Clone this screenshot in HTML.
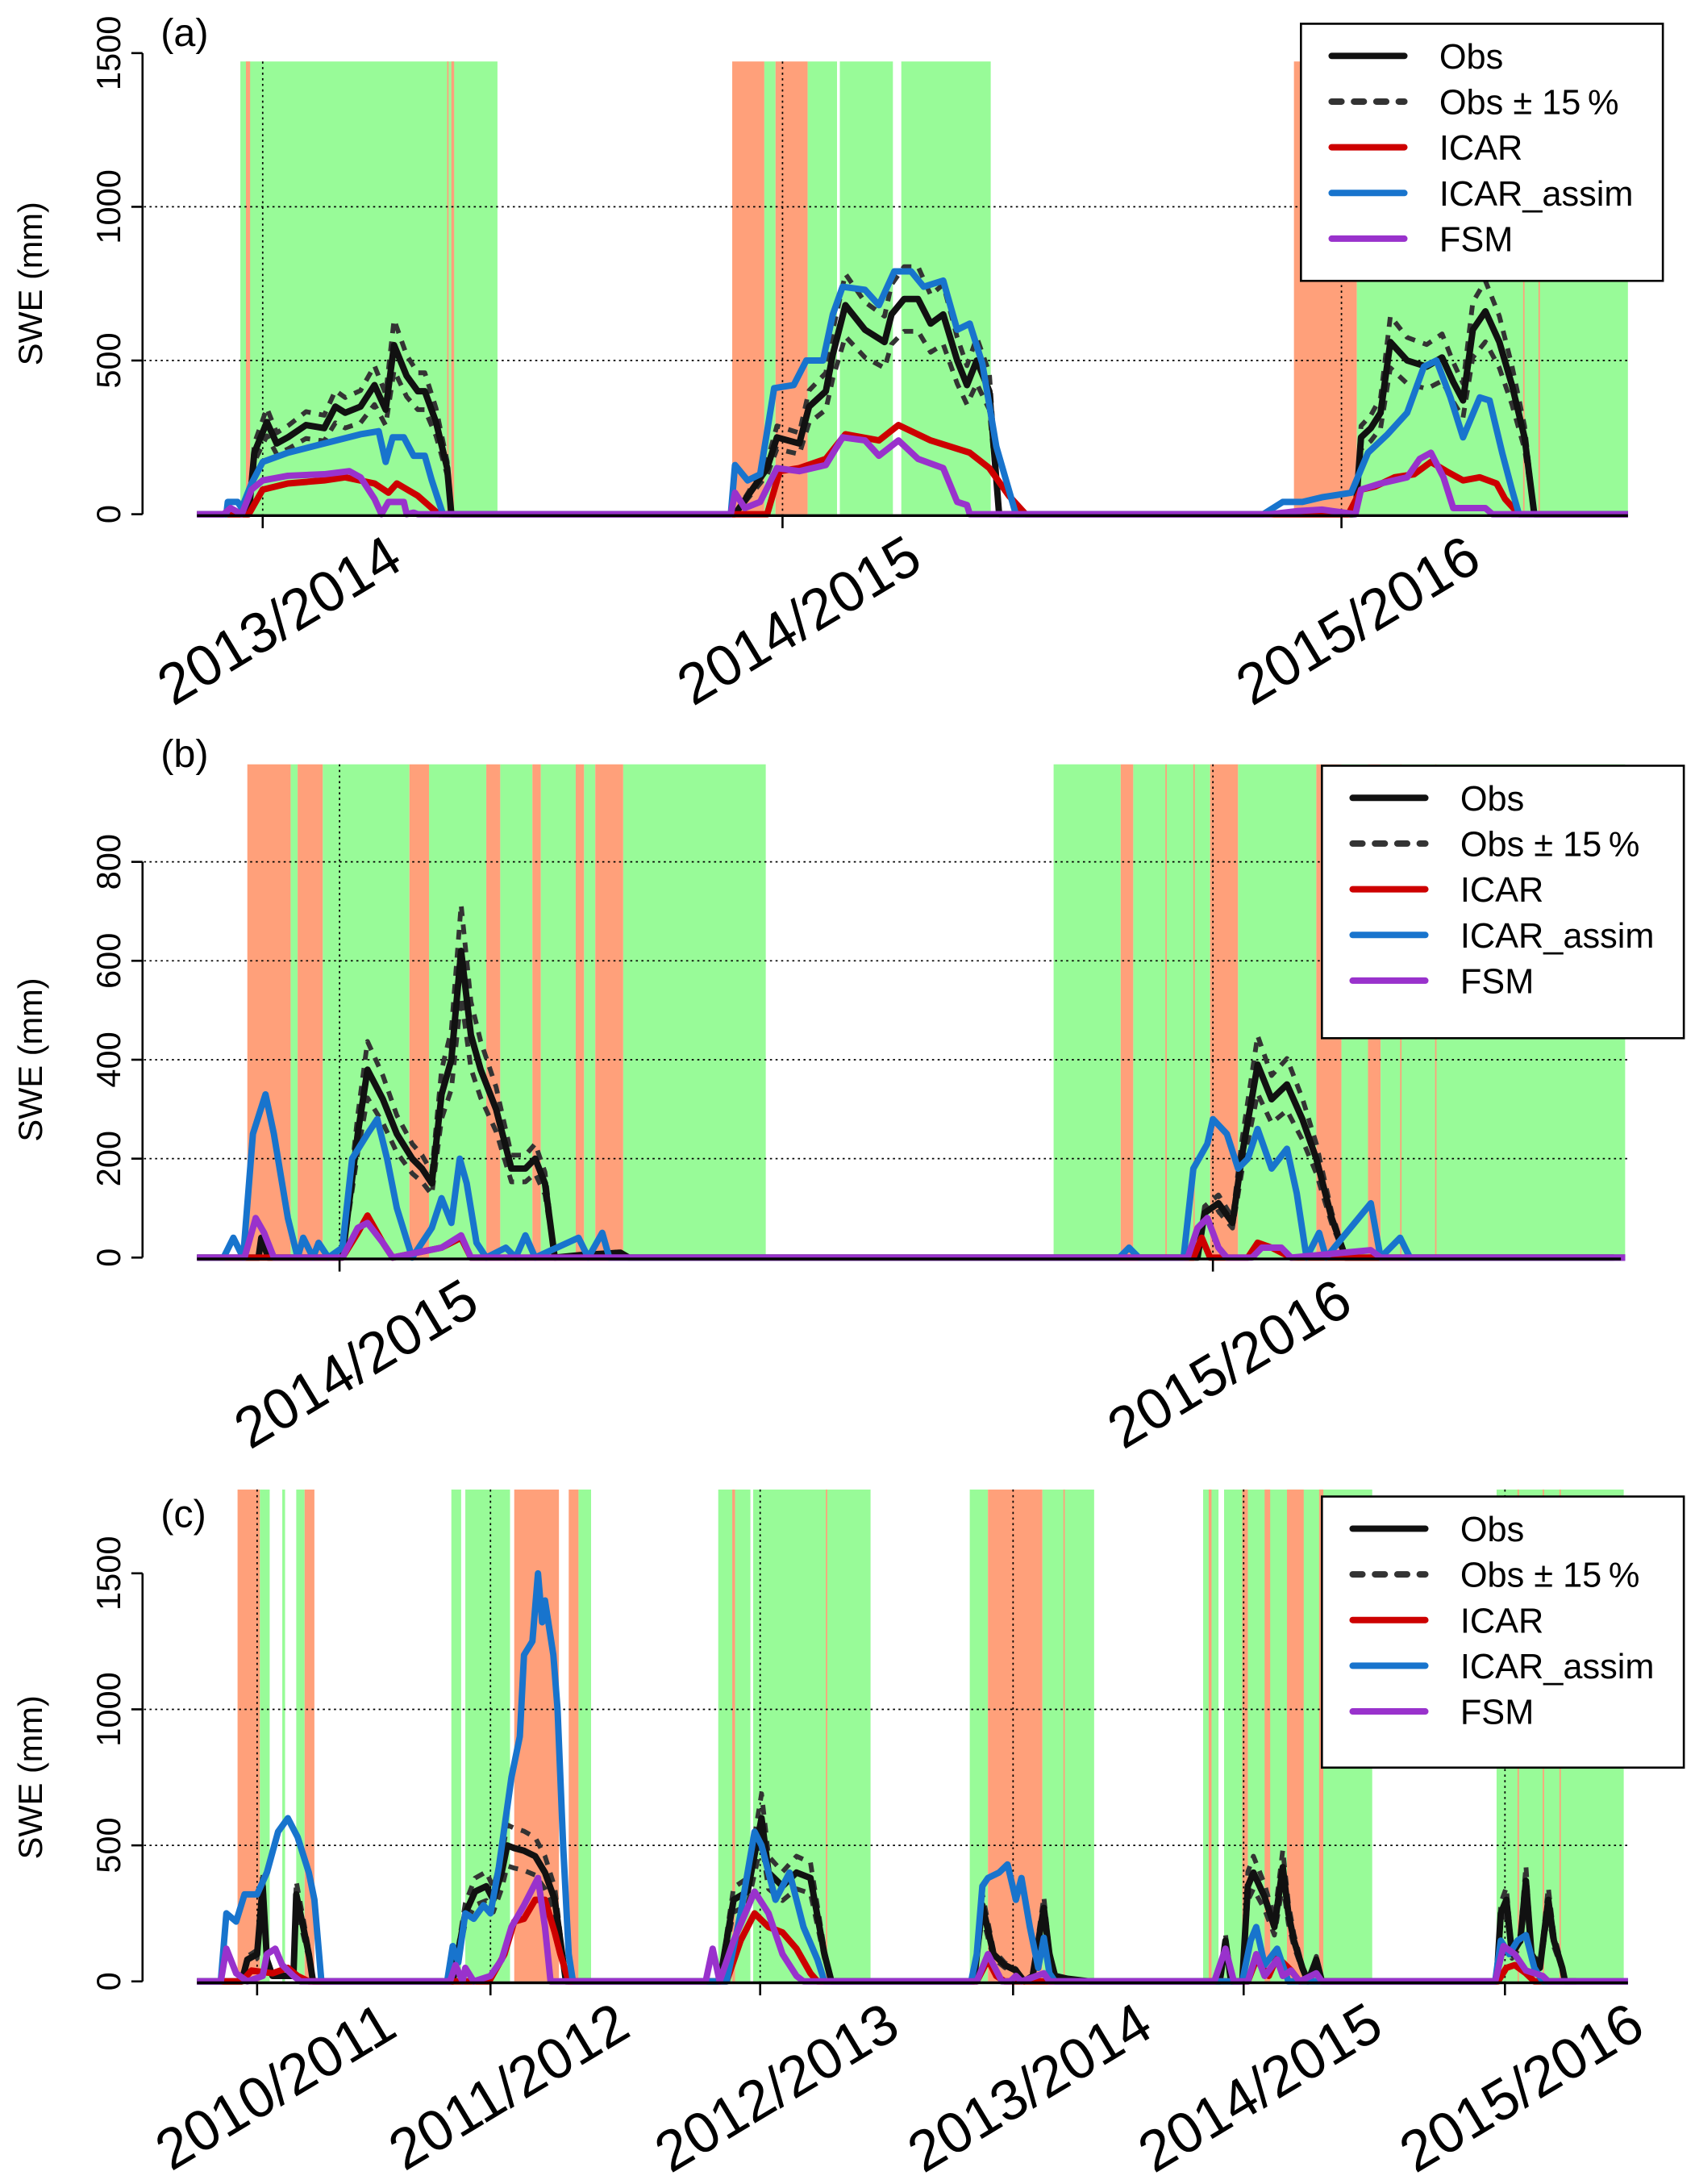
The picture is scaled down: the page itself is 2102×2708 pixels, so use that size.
<!DOCTYPE html>
<html><head><meta charset="utf-8"><title>SWE panels</title>
<style>html,body{margin:0;padding:0;background:#fff}svg{display:block}text{font-family:"Liberation Sans","DejaVu Sans",sans-serif}</style>
</head><body>
<svg id="chart" xmlns="http://www.w3.org/2000/svg" width="2102" height="2708" viewBox="0 0 1213 1563" preserveAspectRatio="none">
<rect width="1213" height="1563" fill="#fff"/>
</svg>
<script>
// ---------- Panel (a) ----------
const aYTicks=[0,500,1000,1500];
const aGrid=[500,1000];
const aTickDays=[188,560,960];
const aTickLabels=["2013/2014","2014/2015","2015/2016"];
const aBands=[[172,356,"g"],[176,179,"s"],[320,321,"s"],[323,325,"s"],[524,547,"s"],[547,555,"g"],[555,578,"s"],[578,599,"g"],[601,639,"g"],[645,709,"g"],[926,971,"s"],[971,1165,"g"],[1090,1091,"s"],[1101,1102,"s"]];
const aObs=[[141,0],[178,0],[182,200],[191,300],[198,230],[206,250],[219,290],[232,280],[240,350],[247,330],[258,350],[268,420],[276,340],[282,550],[291,450],[299,400],[304,400],[312,300],[320,150],[323,0],[526,0],[549,150],[556,250],[572,230],[579,350],[591,400],[596,520],[605,680],[619,600],[633,560],[638,650],[647,700],[657,700],[666,620],[675,650],[685,500],[692,420],[699,500],[708,400],[715,0],[970,0],[974,250],[981,280],[988,330],[995,560],[1007,500],[1021,480],[1032,510],[1040,430],[1047,370],[1054,600],[1063,660],[1073,560],[1082,420],[1091,250],[1098,0],[1165,0]];
const aIcar=[[141,0],[178,0],[188,80],[206,100],[232,110],[247,120],[268,100],[278,70],[284,100],[299,60],[314,0],[549,0],[558,140],[572,150],[591,180],[605,260],[629,240],[643,290],[666,240],[680,220],[694,200],[708,150],[722,60],[734,0],[965,0],[974,80],[984,90],[998,120],[1012,130],[1024,170],[1035,140],[1047,110],[1059,120],[1071,100],[1077,50],[1087,0],[1165,0]];
const aAssim=[[141,0],[162,0],[163,40],[170,40],[173,20],[180,100],[188,170],[206,200],[232,230],[258,260],[271,270],[276,170],[281,250],[289,250],[296,190],[304,190],[309,110],[317,0],[523,0],[526,160],[535,110],[544,130],[554,410],[568,420],[577,500],[589,500],[596,650],[603,740],[619,730],[629,680],[640,790],[652,790],[661,740],[675,760],[685,600],[694,620],[703,490],[713,220],[727,0],[904,0],[918,40],[932,40],[946,55],[967,70],[979,200],[993,260],[1007,330],[1019,480],[1028,500],[1038,380],[1047,250],[1059,380],[1066,370],[1075,200],[1082,80],[1087,0],[1165,0]];
const aFsm=[[141,0],[160,0],[165,20],[173,0],[180,80],[188,110],[206,125],[232,130],[250,140],[258,120],[268,50],[273,0],[278,40],[289,40],[291,0],[296,5],[299,0],[523,0],[526,70],[533,20],[544,40],[556,150],[572,140],[591,160],[603,250],[619,240],[629,190],[643,240],[657,180],[675,150],[685,40],[692,30],[694,0],[909,0],[928,10],[946,15],[970,0],[974,80],[988,100],[1007,120],[1016,180],[1024,200],[1033,120],[1040,20],[1049,20],[1063,20],[1068,0],[1165,0]];

// ---------- Panel (b) ----------
const bYTicks=[0,200,400,600,800];
const bGrid=[200,400,600,800];
const bTickDays=[243,868];
const bTickLabels=["2014/2015","2015/2016"];
const bBands=[[177,208,"s"],[208,213,"g"],[213,231,"s"],[231,293,"g"],[293,307,"s"],[307,348,"g"],[348,358,"s"],[358,381,"g"],[381,387,"s"],[387,412,"g"],[412,418,"s"],[418,426,"g"],[426,446,"s"],[446,548,"g"],[754,802,"g"],[802,811,"s"],[811,866,"g"],[834,835,"s"],[854,855,"s"],[866,886,"s"],[886,942,"g"],[942,960,"s"],[960,979,"g"],[979,988,"s"],[988,1163,"g"],[1002,1003,"s"],[1027,1028,"s"]];
const bObs=[[141,0],[185,0],[187,40],[192,0],[245,0],[256,250],[263,380],[274,320],[284,250],[295,200],[302,180],[309,150],[316,330],[323,400],[330,620],[337,450],[344,380],[355,300],[366,180],[376,180],[383,200],[390,150],[397,0],[415,5],[444,10],[450,0],[857,0],[862,90],[872,110],[882,70],[889,210],[900,390],[910,320],[921,350],[932,280],[942,200],[953,80],[963,0],[1155,0]];
const bIcar=[[141,0],[245,0],[256,50],[263,85],[274,30],[281,0],[316,20],[330,40],[337,0],[854,0],[860,40],[866,0],[893,0],[900,30],[910,20],[924,0],[1163,0]];
const bAssim=[[141,0],[160,0],[167,40],[174,0],[181,250],[190,330],[196,250],[206,80],[213,0],[217,40],[224,0],[228,30],[235,0],[245,20],[252,200],[263,250],[270,280],[277,200],[284,100],[295,0],[309,60],[316,120],[323,70],[329,200],[334,150],[341,30],[348,0],[362,20],[369,0],[376,45],[383,0],[414,40],[421,0],[431,50],[436,0],[801,0],[808,20],[815,0],[847,0],[854,180],[864,230],[868,280],[878,250],[886,180],[893,200],[900,260],[910,180],[921,220],[928,130],[935,0],[944,50],[949,0],[981,110],[988,0],[1002,40],[1009,0],[1163,0]];
const bFsm=[[141,0],[175,0],[183,80],[189,50],[196,0],[245,0],[256,60],[263,70],[274,30],[281,0],[316,20],[330,45],[337,0],[850,0],[857,60],[864,80],[872,20],[878,0],[896,0],[903,20],[917,20],[924,0],[981,15],[988,0],[1163,0]];

// ---------- Panel (c) ----------
const cYTicks=[0,500,1000,1500];
const cGrid=[500,1000];
const cTickDays=[184,351,544,725,890,1077];
const cTickLabels=["2010/2011","2011/2012","2012/2013","2013/2014","2014/2015","2015/2016"];
const cBands=[[170,186,"s"],[186,193,"g"],[202,204,"g"],[212,218,"g"],[218,225,"s"],[323,330,"g"],[333,365,"g"],[368,400,"s"],[407,414,"s"],[414,423,"g"],[514,524,"g"],[524,526,"s"],[526,537,"g"],[539,623,"g"],[591,592,"s"],[694,707,"g"],[707,746,"s"],[746,783,"g"],[761,762,"s"],[861,872,"g"],[865,867,"s"],[876,982,"g"],[889,893,"s"],[905,909,"s"],[921,933,"s"],[944,947,"s"],[1071,1162,"g"],[1086,1087,"s"],[1104,1105,"s"],[1116,1117,"s"]];
const cObs=[[141,0],[173,0],[177,80],[184,100],[188,350],[191,80],[195,20],[210,20],[212,320],[217,200],[221,100],[224,0],[324,0],[333,250],[340,330],[348,350],[353,300],[359,400],[363,500],[368,490],[375,480],[383,460],[390,400],[397,300],[401,150],[405,0],[515,0],[525,300],[535,330],[545,600],[550,400],[560,350],[570,400],[580,380],[590,100],[595,0],[697,0],[703,280],[711,100],[719,60],[727,40],[733,0],[739,20],[747,270],[751,100],[755,20],[764,10],[780,0],[873,0],[877,150],[881,0],[889,0],[893,350],[897,400],[905,310],[912,200],[918,420],[922,250],[926,150],[932,50],[936,0],[942,80],[946,0],[1071,0],[1074,250],[1078,300],[1082,100],[1088,150],[1092,370],[1096,100],[1102,50],[1108,300],[1112,150],[1118,50],[1120,0],[1128,0]];
const cIcar=[[141,0],[173,0],[180,40],[195,30],[206,50],[213,20],[221,0],[350,0],[361,100],[368,220],[375,230],[383,300],[390,300],[397,180],[401,100],[407,0],[520,0],[530,150],[540,250],[550,200],[560,180],[570,120],[580,30],[585,0],[699,0],[707,80],[713,20],[719,0],[893,0],[899,80],[908,20],[914,90],[924,40],[930,0],[1072,0],[1078,50],[1084,60],[1092,30],[1098,0],[1165,0]];
const cAssim=[[141,0],[158,0],[162,250],[169,220],[175,320],[184,320],[191,400],[199,550],[206,600],[213,530],[221,400],[225,300],[230,0],[320,0],[324,130],[328,70],[333,250],[339,230],[346,280],[351,250],[357,420],[366,750],[372,900],[375,1200],[381,1250],[385,1500],[388,1320],[390,1400],[396,1200],[399,1000],[403,500],[407,100],[410,0],[520,0],[530,250],[540,550],[545,500],[555,300],[565,400],[575,200],[585,80],[590,0],[695,0],[699,100],[703,350],[707,380],[715,400],[721,430],[727,300],[731,380],[737,200],[741,100],[743,50],[747,160],[751,30],[755,0],[889,0],[895,150],[899,200],[905,60],[914,120],[918,60],[922,0],[1070,0],[1074,150],[1080,100],[1086,150],[1092,170],[1098,50],[1104,0],[1165,0]];
const cFsm=[[141,0],[158,0],[162,120],[169,30],[177,0],[188,20],[191,100],[197,120],[202,60],[210,20],[215,0],[322,0],[326,60],[331,0],[333,50],[339,0],[351,20],[359,80],[366,200],[375,280],[385,380],[390,200],[394,0],[505,0],[510,120],[515,0],[525,150],[540,330],[550,250],[560,100],[570,20],[575,0],[699,0],[707,100],[713,40],[717,0],[723,0],[727,20],[731,0],[747,30],[751,0],[869,0],[877,120],[883,0],[893,0],[899,100],[905,20],[914,80],[918,20],[924,40],[930,0],[942,30],[946,0],[1070,0],[1076,130],[1084,100],[1092,40],[1104,20],[1108,0],[1165,0]];

const NS="http://www.w3.org/2000/svg";
const svg=document.getElementById('chart');
function mk(tag,attrs,parent){const e=document.createElementNS(NS,tag);for(const k in attrs)e.setAttribute(k,attrs[k]);(parent||svg).appendChild(e);return e;}

function panel(cfg){
  const g=mk('g',{});
  
  
  const xs=d=>cfg.x0+(d-cfg.dMin)*cfg.k;
  const ys=v=>cfg.y0-v*cfg.py;
  cfg.bands.forEach(b=>{
    const r=mk('rect',{x:xs(b[0]),y:cfg.bandTop,width:Math.max(1,xs(b[1])-xs(b[0])),height:cfg.y0-cfg.bandTop,fill:b[2]==="g"?"#98fb98":"#ffa07a"},g);
    
    
  });
  cfg.grid.forEach(v=>{
    const l=mk('line',{x1:103,x2:1167,y1:ys(v),y2:ys(v),stroke:"#000","stroke-width":1,"stroke-dasharray":"1.5 2.5"},g);
    
    
  });
  cfg.tickDays.forEach(d=>{
    const l=mk('line',{x1:xs(d),x2:xs(d),y1:cfg.bandTop,y2:cfg.y0,stroke:"#000","stroke-width":1,"stroke-dasharray":"1.5 2.5"},g);
    
    
  });
  const path=pts=>pts.map((p,i)=>(i?'L':'M')+xs(p[0]).toFixed(1)+' '+ys(p[1]).toFixed(1)).join(' ');
  const scaled=f=>cfg.obs.map(p=>[p[0],p[1]*f]);
  [[scaled(1.15),'obs-plus-15'],[scaled(0.85),'obs-minus-15']].forEach(s=>{
    const p=mk('path',{d:path(s[0]),fill:"none",stroke:"#333","stroke-width":3.4,"stroke-dasharray":"7 6","stroke-linejoin":"round"},g);
    
    
  });
  [[cfg.obs,'#111','obs-line'],[cfg.icar,'#cd0000','icar-line'],[cfg.assim,'#1874cd','icar-assim-line'],[cfg.fsm,'#9932cc','fsm-line']].forEach(s=>{
    const p=mk('path',{d:path(s[0]),fill:"none",stroke:s[1],"stroke-width":4.6,"stroke-linejoin":"round"},g);
    
    
  });
  const ax=mk('line',{x1:141,x2:cfg.axisEnd,y1:cfg.y0+1,y2:cfg.y0+1,stroke:"#000","stroke-width":2},g);
  
  
  cfg.tickDays.forEach((d,i)=>{
    const t=mk('line',{x1:xs(d),x2:xs(d),y1:cfg.y0,y2:cfg.y0+10,stroke:"#000","stroke-width":1.5},g);
    
    
    const tx=mk('text',{x:0,y:0,"font-size":41,"text-anchor":"end",transform:`translate(${xs(d)+102},${cfg.y0+38}) rotate(-31)`},g);
    tx.textContent=cfg.tickLabels[i];
    
    
  });
  const top=ys(cfg.yTicks[cfg.yTicks.length-1]);
  const ya=mk('line',{x1:102,x2:102,y1:top,y2:cfg.y0,stroke:"#000","stroke-width":1.5},g);
  
  
  cfg.yTicks.forEach(v=>{
    const t=mk('line',{x1:94,x2:102,y1:ys(v),y2:ys(v),stroke:"#000","stroke-width":1.5},g);
    
    
    const tx=mk('text',{x:0,y:0,"font-size":24,"text-anchor":"middle",transform:`translate(86,${ys(v)}) rotate(-90)`},g);
    tx.textContent=String(v);
    
    
  });
  const yt=mk('text',{x:0,y:0,"font-size":24,"text-anchor":"middle",transform:`translate(30,${(top+cfg.y0)/2}) rotate(-90)`},g);
  yt.textContent="SWE (mm)";
  
  
  const pl=mk('text',{x:115,y:cfg.labelY,"font-size":28},g);
  pl.textContent="("+cfg.id+")";
  
  
  const L=cfg.legend;
  const lg=mk('g',{},g);
  
  
  mk('rect',{x:L.x,y:L.y,width:259,height:L.h,fill:"#fff",stroke:"#000","stroke-width":1.5},lg);
  const items=[["Obs","#111",null],["Obs \u00b1 15\u2009%","#333","7 9"],["ICAR","#cd0000",null],["ICAR_assim","#1874cd",null],["FSM","#9932cc",null]];
  items.forEach((it,i)=>{
    const yy=L.y+23+i*32.7;
    const ln=mk('line',{x1:L.x+22,x2:L.x+74,y1:yy,y2:yy,stroke:it[1],"stroke-width":4.6,"stroke-linecap":"round"},lg);
    if(it[2])ln.setAttribute('stroke-dasharray',it[2]);
    
    
    const tx=mk('text',{x:L.x+99,y:yy+9,"font-size":25},lg);
    tx.textContent=it[0];
    
    
  });
}

panel({id:"a",x0:141,dMin:141,k:1,y0:368,py:0.22,bandTop:44,axisEnd:1165,yTicks:aYTicks,grid:aGrid,tickDays:aTickDays,tickLabels:aTickLabels,bands:aBands,obs:aObs,icar:aIcar,assim:aAssim,fsm:aFsm,labelY:33,legend:{x:931,y:17,h:184}});
panel({id:"b",x0:141,dMin:141,k:1,y0:900,py:0.354,bandTop:547,axisEnd:1160,yTicks:bYTicks,grid:bGrid,tickDays:bTickDays,tickLabels:bTickLabels,bands:bBands,obs:bObs,icar:bIcar,assim:bAssim,fsm:bFsm,labelY:549,legend:{x:946,y:548,h:195}});
panel({id:"c",x0:141,dMin:141,k:1,y0:1418,py:0.1947,bandTop:1066,axisEnd:1165,yTicks:cYTicks,grid:cGrid,tickDays:cTickDays,tickLabels:cTickLabels,bands:cBands,obs:cObs,icar:cIcar,assim:cAssim,fsm:cFsm,labelY:1093,legend:{x:946,y:1071,h:194}});
</script>
</body></html>
